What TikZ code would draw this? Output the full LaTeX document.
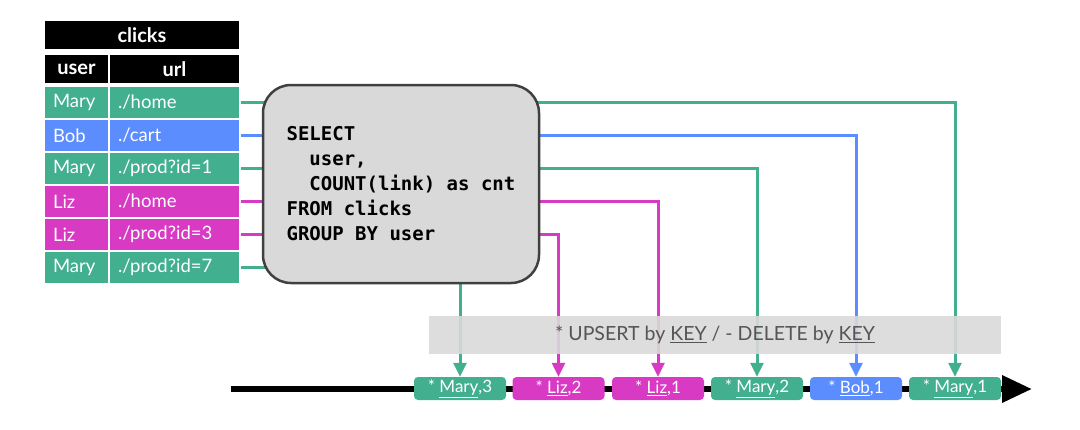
\documentclass[tikz,border=0pt]{standalone}
\usepackage{fontspec}
\setmainfont{Lato}
\setmonofont{DejaVu Sans Mono}
\usetikzlibrary{arrows.meta}
\definecolor{cgreen}{RGB}{66,176,143}
\definecolor{cblue}{RGB}{92,141,255}
\definecolor{cmag}{RGB}{216,58,196}
\definecolor{boxgray}{RGB}{217,217,217}
\definecolor{boxedge}{RGB}{64,64,64}
\definecolor{bandtext}{RGB}{85,85,85}
\tikzset{
  hdr/.style={fill=black, draw=white, line width=1.5pt, text=white, inner sep=0pt,
    minimum height=30pt, font={\fontsize{20}{24}\selectfont\bfseries}},
  ucell/.style={fill=#1, draw=white, line width=1.5pt, text=white, inner xsep=9pt, inner ysep=0pt,
    minimum height=33pt, text width=47pt, align=left, font={\fontsize{18.5}{22}\selectfont}},
  lcell/.style={fill=#1, draw=white, line width=1.5pt, text=white, inner xsep=9pt, inner ysep=0pt,
    minimum height=33pt, text width=113pt, align=left, font={\fontsize{18.5}{22}\selectfont}},
  evbox/.style={fill=#1, rounded corners=4pt, text=white, inner sep=0pt,
    minimum width=92pt, minimum height=23pt, font={\fontsize{17}{20}\selectfont}},
  flow/.style={line width=3pt, -{Triangle[length=14pt,width=13pt]}},
  sqlbox/.style={fill=boxgray, draw=boxedge, line width=2.5pt, rounded corners=28pt,
    minimum width=276pt, minimum height=198pt, align=left, inner sep=0pt,
    font={\fontsize{19}{25}\selectfont\ttfamily\bfseries}},
  band/.style={fill=boxgray, fill opacity=0.9, text opacity=1, text=bandtext, inner sep=0pt,
    minimum width=572pt, minimum height=38pt, font={\fontsize{19.5}{22}\selectfont}},
}
\begin{document}
\begin{tikzpicture}[x=1pt,y=-1pt]
\useasboundingbox (0,0) rectangle (1080,429);
% timeline
\coordinate (tlstart) at (231,389);
\coordinate (tlend) at (1032,389);
\draw[line width=6.5pt, -{Triangle[length=30pt,width=26pt]}] (tlstart) -- (tlend);
% event boxes
\node[evbox=cgreen] (ev1) at (460,388.5) {* \underline{Mary},3};
\node[evbox=cmag]   (ev2) at (558.5,388.5) {* \underline{Liz},2};
\node[evbox=cmag]   (ev3) at (658,388.5) {* \underline{Liz},1};
\node[evbox=cgreen] (ev4) at (757,388.5) {* \underline{Mary},2};
\node[evbox=cblue]  (ev5) at (856,388.5) {* \underline{Bob},1};
\node[evbox=cgreen] (ev6) at (955,388.5) {* \underline{Mary},1};
% table
\node[hdr, minimum width=196pt] (title) at (142,35) {clicks};
\node[hdr, minimum width=65pt] (huser) at (76.5,69) {user};
\node[hdr, minimum width=131pt] (hurl) at (174.5,69) {url};
\node[ucell=cgreen] (r1u) at (76.5,102.5) {Mary};
\node[lcell=cgreen] (r1l) at (174.5,102.5) {./home};
\node[ucell=cblue] (r2u) at (76.5,135.5) {Bob};
\node[lcell=cblue] (r2l) at (174.5,135.5) {./cart};
\node[ucell=cgreen] (r3u) at (76.5,168.5) {Mary};
\node[lcell=cgreen] (r3l) at (174.5,168.5) {./prod?id=1};
\node[ucell=cmag] (r4u) at (76.5,201.5) {Liz};
\node[lcell=cmag] (r4l) at (174.5,201.5) {./home};
\node[ucell=cmag] (r5u) at (76.5,234.5) {Liz};
\node[lcell=cmag] (r5l) at (174.5,234.5) {./prod?id=3};
\node[ucell=cgreen] (r6u) at (76.5,267.5) {Mary};
\node[lcell=cgreen] (r6l) at (174.5,267.5) {./prod?id=7};
% flows
\draw[flow, cgreen] (r1l.east) -| (ev6.north);
\draw[flow, cblue]  (r2l.east) -| (ev5.north);
\draw[flow, cgreen] (r3l.east) -| (ev4.north);
\draw[flow, cmag]   (r4l.east) -| (ev3.north);
\draw[flow, cmag]   (r5l.east) -| (ev2.north);
\draw[flow, cgreen] (r6l.east) -| (ev1.north);
% SQL box
\node[sqlbox] (sql) at (401,184) {SELECT\\\hphantom{xx}user,\\\hphantom{xx}COUNT(link) as cnt\\FROM clicks\\GROUP BY user};
% band
\node[band] (upsert) at (715,335) {* UPSERT by \underline{KEY} / - DELETE by \underline{KEY}};
\end{tikzpicture}
\end{document}
